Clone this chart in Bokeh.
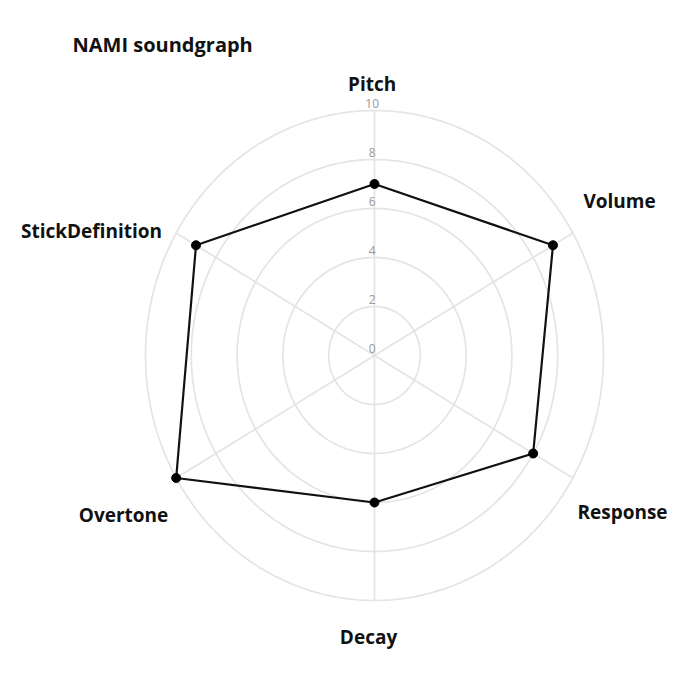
import math
from bokeh.plotting import figure
from bokeh.models import Label, Range1d
from bokeh.core.properties import value
from bokeh.embed import file_html
from bokeh.resources import INLINE

# ---- data ----
categories = ["Pitch", "Volume", "Response", "Decay", "Overtone", "StickDefinition"]
scores = [7, 9, 8, 6, 10, 9]
angles_deg = [90, 30, -30, -90, -150, 150]
ring_values = [2, 4, 6, 8, 10]
tick_values = [0, 2, 4, 6, 8, 10]
tick_labels = ["0", "2", "4", "6", "8", "10"]
title_text = "NAMI soundgraph"

# ---- layout ----
W, H = 684, 684
px_x, px_y = 22.9, 24.5      # pixels per unit
cx, cy = 374, 329            # centre in canvas px (from left, from bottom)

p = figure(width=W, height=H, output_backend="svg", toolbar_location=None,
           x_range=Range1d(-cx / px_x, (W - cx) / px_x),
           y_range=Range1d(-cy / px_y, (H - cy) / px_y),
           min_border=0)
p.axis.visible = False
p.grid.visible = False
p.outline_line_color = None
p.background_fill_color = "white"

grid_col = "#e4e4e4"
# rings
for rv in ring_values:
    ts = [2 * math.pi * i / 240 for i in range(241)]
    p.line([rv * math.cos(t) for t in ts], [rv * math.sin(t) for t in ts],
           line_color=grid_col, line_width=1.7)
# spokes
rmax = max(ring_values)
for a in angles_deg:
    r = math.radians(a)
    p.line([0, rmax * math.cos(r)], [0, rmax * math.sin(r)],
           line_color=grid_col, line_width=1.7)

# tick labels
p.text(x=[-0.1] * len(tick_values), y=[v + 0.3 for v in tick_values], text=tick_labels,
       text_font=value("Open Sans"), text_font_size="12px", text_color="#999999",
       text_align="center", text_baseline="middle")

# data polygon
xs = [s * math.cos(math.radians(a)) for s, a in zip(scores, angles_deg)]
ys = [s * math.sin(math.radians(a)) for s, a in zip(scores, angles_deg)]
p.line(xs + xs[:1], ys + ys[:1], line_color="#111111", line_width=2.2)
p.scatter(xs, ys, size=9, fill_color="#000000", line_color="#000000")

# category labels
label_x = [-0.1, 10.7, 10.83, -0.26, -10.96, -12.36]
label_y = [11.1, 6.29, -6.37, -11.47, -6.53, 5.1]
p.text(x=label_x, y=label_y, text=categories,
       text_font=value("Open Sans"), text_font_style="bold", text_font_size="19px",
       text_color="#111111", text_align="center", text_baseline="middle")

p.add_layout(Label(x=72, y=H - 44, x_units="screen", y_units="screen", text=title_text,
                   text_font="Open Sans", text_font_style="bold", text_font_size="20px",
                   text_color="#111111", text_baseline="middle"))

open("out.html", "w").write(file_html(p, INLINE))
